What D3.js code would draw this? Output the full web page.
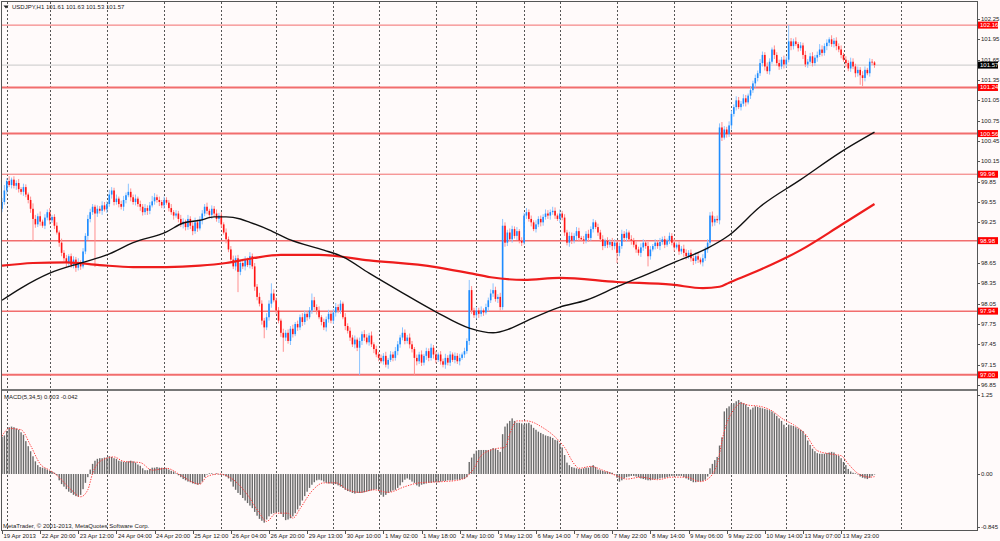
<!DOCTYPE html>
<html>
<head>
<meta charset="utf-8">
<title>USDJPY,H1</title>
<script src="https://d3js.org/d3.v7.min.js"></script>
<style>
  html, body { margin: 0; padding: 0; background: #fffafa; }
  svg { display: block; font-family: "Liberation Sans", Arial, sans-serif; }
  .lbl { font-size: 6px; fill: #222; }
  .grid { stroke: #555; stroke-width: 1; stroke-dasharray: 2,2; }
</style>
</head>
<body>
<svg id="chart" width="1000" height="541"></svg>
<script>
// ---- data (H1 bars, index 0 = first visible bar) ----
var firstOpen = 99.45;
var closes = [
  99.55,99.72,99.86,99.80,99.88,99.79,99.83,99.74,99.70,99.77,
  99.66,99.58,99.45,99.30,99.22,99.34,99.26,99.20,99.32,99.40,
  99.28,99.33,99.20,99.10,98.95,98.80,98.72,98.65,98.75,98.62,
  98.70,98.58,98.66,98.60,98.82,99.05,99.30,99.40,99.48,99.38,
  99.45,99.42,99.50,99.44,99.52,99.66,99.72,99.55,99.60,99.52,
  99.48,99.58,99.65,99.70,99.62,99.55,99.60,99.52,99.48,99.40,
  99.46,99.42,99.50,99.56,99.62,99.58,99.55,99.50,99.58,99.54,
  99.46,99.40,99.35,99.38,99.30,99.22,99.26,99.18,99.30,99.20,
  99.12,99.25,99.16,99.28,99.38,99.48,99.42,99.36,99.45,99.38,
  99.30,99.35,99.22,99.10,99.00,98.85,98.70,98.60,98.72,98.52,
  98.65,98.60,98.70,98.62,98.75,98.60,98.30,98.15,98.05,97.80,
  97.70,97.85,98.05,98.20,98.10,97.95,97.80,97.62,97.55,97.62,
  97.50,97.68,97.60,97.75,97.70,97.85,97.78,97.90,97.85,97.95,
  98.10,98.00,97.95,97.85,97.78,97.70,97.82,97.90,97.80,97.92,
  98.00,97.95,98.05,97.85,97.72,97.65,97.55,97.45,97.52,97.40,
  97.50,97.60,97.55,97.48,97.58,97.45,97.38,97.30,97.25,97.20,
  97.28,97.15,97.22,97.30,97.25,97.35,97.45,97.55,97.62,97.50,
  97.55,97.45,97.38,97.25,97.20,97.30,97.18,97.28,97.35,97.25,
  97.40,97.30,97.22,97.30,97.20,97.15,97.25,97.18,97.30,97.22,
  97.28,97.20,97.25,97.30,97.35,97.50,98.25,97.95,97.88,97.95,
  97.90,97.95,97.92,98.00,98.10,98.20,98.25,98.12,98.15,98.00,
  99.20,98.95,99.10,99.00,99.15,99.05,99.12,98.98,98.95,99.35,
  99.40,99.30,99.25,99.15,99.22,99.30,99.25,99.33,99.38,99.35,
  99.40,99.42,99.35,99.30,99.38,99.32,99.10,98.95,99.05,98.98,
  99.05,99.12,99.02,99.00,98.98,99.08,99.02,99.15,99.25,99.18,
  99.10,99.00,98.90,98.98,98.92,98.96,98.90,98.95,98.80,98.90,
  99.08,99.02,99.10,99.00,98.98,98.92,98.85,98.80,98.88,98.95,
  98.90,98.75,98.85,98.90,98.95,98.90,98.96,99.00,98.92,98.98,
  99.05,98.95,98.88,98.92,98.82,98.86,98.80,98.75,98.80,98.72,
  98.68,98.75,98.70,98.66,98.72,98.85,98.95,99.35,99.25,99.30,
  99.28,100.65,100.50,100.62,100.55,100.68,100.85,100.95,101.05,100.95,
  101.00,101.08,101.02,101.12,101.20,101.30,101.38,101.45,101.60,101.72,
  101.55,101.48,101.62,101.80,101.72,101.60,101.55,101.65,101.58,101.65,
  101.92,101.85,101.92,101.88,101.82,101.86,101.72,101.58,101.62,101.70,
  101.60,101.68,101.72,101.80,101.75,101.85,101.90,101.95,101.88,101.93,
  101.85,101.80,101.72,101.65,101.60,101.52,101.62,101.55,101.45,101.50,
  101.42,101.38,101.50,101.45,101.62,101.61,101.57
];
// upper / lower shadow lengths in pips (0.01)
var wickUp = [
  6,8,4,7,3,5,4,6,3,5, 4,3,5,8,6,4,7,3,5,4, 6,3,4,5,3,6,4,5,3,4, 5,4,6,3,5,4,6,5,4,3,
  5,4,6,5,4,7,5,4,6,3, 5,6,4,12,5,4,6,3,5,4, 6,4,5,8,6,4,5,3,5,4, 4,6,3,5,4,6,5,3,6,4,
  5,7,4,6,5,4,6,3,5,4, 6,4,5,3,6,4,5,6,4,5, 4,6,5,3,6,4,5,4,6,5, 4,6,5,15,6,4,5,3,6,4,
  5,4,6,3,5,4,6,5,4,5, 10,5,4,6,3,5,4,6,4,5, 6,4,5,3,6,4,5,4,6,3, 5,4,6,5,4,6,3,5,4,5,
  4,6,3,5,4,6,5,4,8,5, 4,6,5,3,5,4,6,3,5,4, 6,4,5,3,5,4,6,4,5,3, 5,4,6,3,5,4,15,6,4,5,
  4,6,3,5,4,6,10,5,4,6, 10,5,4,6,5,4,6,3,5,4, 6,4,5,3,6,4,5,4,6,5, 4,6,5,3,6,4,5,4,6,5,
  4,6,5,3,5,4,6,4,5,3, 5,4,6,3,5,4,6,5,4,5, 6,4,5,3,6,4,5,4,6,5, 4,6,5,3,5,4,6,4,5,3,
  5,4,6,3,5,4,6,5,4,5, 4,6,5,3,6,4,5,5,6,4, 5,6,8,5,4,6,5,4,6,5, 4,6,5,3,6,4,5,4,6,5,
  4,6,5,3,6,4,5,4,6,5, 24,5,4,6,3,5,4,6,4,5, 6,4,5,8,6,4,5,3,6,4, 5,4,6,3,5,4,6,5,4,5,
  4,6,5,3,5,4,2
];
var wickDn = [
  5,4,6,3,5,4,6,5,4,6, 4,5,6,32,5,4,6,3,5,4, 6,4,5,3,6,5,4,6,5,4, 5,6,4,5,3,4,6,5,4,79,
  5,4,6,3,5,4,6,5,4,5, 4,6,5,3,6,4,5,4,6,5, 4,6,5,3,5,4,6,4,5,3, 5,4,6,3,5,4,6,5,4,5,
  6,4,5,3,6,4,5,4,6,5, 4,6,5,3,6,4,5,4,6,30, 5,4,6,3,5,4,6,5,4,6, 16,4,5,6,3,5,4,6,21,5,
  4,6,5,3,5,4,6,4,5,3, 5,4,6,3,5,4,6,5,4,5, 6,4,5,3,6,4,5,4,6,5, 40,6,5,3,5,4,6,4,5,3,
  5,4,6,3,5,4,6,5,4,5, 4,6,5,25,6,4,5,4,6,5, 4,6,5,3,5,4,6,4,5,3, 5,4,6,3,5,4,6,5,4,5,
  6,4,5,3,6,4,5,4,6,5, 4,6,5,3,5,4,6,4,5,3, 5,4,6,3,5,4,6,5,4,5, 6,4,5,3,6,4,5,4,6,5,
  4,6,5,3,5,4,6,4,5,3, 5,4,6,3,5,4,6,5,15,5, 4,6,5,3,6,4,5,4,6,5, 4,15,5,3,5,4,6,4,5,3,
  5,4,6,3,5,4,6,5,4,5, 6,4,5,3,6,4,5,4,6,5, 4,6,5,3,5,4,6,4,5,3, 5,4,6,3,5,4,6,5,4,5,
  6,4,5,3,6,4,5,4,6,5, 4,6,5,3,5,4,6,4,5,3, 5,4,6,3,5,4,6,5,4,5, 6,4,5,3,6,4,5,4,6,5,
  14,12,5,3,5,4,4
];

// moving averages (bar index, value)
var maBlackIdx = [0,8,20,34,44,55,69,76,83,89,94,100,104,112,121,135,143,154,168,182,196,206,213,221,234,245,258,275,282,296,305,318,335,352,366];
var maBlack    = [98.10,98.28,98.50,98.66,98.77,98.95,99.11,99.24,99.28,99.33,99.33,99.30,99.25,99.14,98.99,98.84,98.74,98.50,98.21,97.93,97.69,97.62,97.68,97.81,98.00,98.10,98.30,98.55,98.66,98.87,99.06,99.48,99.88,100.29,100.58];
var maRedIdx = [0,13,27,41,55,69,83,94,105,117,133,154,182,196,205,219,234,258,281,294,301,305,318,335,352,366];
var maRed    = [98.61,98.65,98.66,98.62,98.59,98.59,98.61,98.65,98.72,98.77,98.77,98.69,98.59,98.50,98.44,98.40,98.43,98.37,98.33,98.28,98.30,98.36,98.55,98.84,99.21,99.52];

// MACD(5,34,5) histogram, hundredths
var macdX100 = [
  59,61,68,74,75,74,72,70,66,62, 52,44,36,28,20,14,11,10,9,7, 5,4,2,-2,-10,-16,-20,-24,-28,-30,
  -33,-35,-36,-33,-24,-14,-5,7,16,21, 24,25,25,26,26,28,27,25,24,21, 20,19,19,20,21,20,18,15,13,9,
  6,6,8,10,10,11,10,10,9,9, 7,5,4,1,-2,-5,-8,-10,-12,-13, -15,-16,-17,-16,-12,-5,-1,1,1,0,
  1,0,-1,-2,-4,-7,-12,-20,-25,-30, -33,-38,-42,-46,-50,-54,-60,-66,-71,-74, -77,-72,-67,-63,-62,-61,-60,-63,-68,-73,
  -72,-70,-67,-62,-56,-50,-42,-35,-28,-22, -17,-13,-10,-9,-10,-12,-14,-15,-15,-16, -16,-18,-20,-22,-25,-27,-28,-30,-31,-30,
  -30,-30,-29,-28,-27,-26,-25,-24,-27,-33, -36,-33,-30,-28,-26,-25,-22,-18,-13,-9, -7,-9,-12,-14,-18,-20,-17,-16,-15,-14,
  -14,-13,-13,-13,-12,-11,-11,-10,-10,-10, -9,-9,-9,-8,-8,-5,19,26,32,37, 38,38,38,38,38,39,41,40,38,35,
  63,75,80,84,88,84,81,81,80,78, 80,81,78,73,70,67,65,63,61,60, 59,57,54,53,48,42,30,18,14,11,
  10,9,8,8,9,10,10,12,14,11, 7,6,5,4,4,3,2,0,-6,-12, -10,-7,-5,-4,-3,-3,-4,-5,-7,-8,
  -9,-10,-10,-9,-8,-8,-7,-6,-6,-5, -4,-3,-3,-3,-3,-3,-5,-7,-9,-11, -13,-13,-12,-12,-11,-9,-4,9,16,22,
  27,45,58,99,104,107,110,112,115,117, 114,112,110,106,102,105,107,106,105,104, 103,102,101,99,96,92,88,84,78,73,
  78,77,76,74,72,70,68,62,53,46, 40,36,33,32,32,32,33,34,35,34, 30,29,25,19,14,8,4,2,1,0,
  -4,-6,-7,-8,-6,-3,0
];
var signalIdx = [0,3,8,12,16,20,23,29,33,36,38,42,47,51,58,63,69,75,80,83,86,91,97,103,108,111,115,120,122,125,130,135,140,145,150,156,162,169,175,185,191,195,198,201,207,211,213,216,220,227,233,236,240,242,247,252,258,262,268,275,281,287,293,297,300,303,307,310,313,318,322,328,332,337,342,347,352,355,359,364,366];
var signal    = [0.60,0.72,0.70,0.45,0.16,0.06,-0.02,-0.25,-0.36,-0.25,0.01,0.22,0.27,0.20,0.18,0.06,0.09,-0.02,-0.13,-0.16,-0.04,0.00,-0.09,-0.33,-0.62,-0.75,-0.62,-0.62,-0.70,-0.55,-0.27,-0.14,-0.14,-0.25,-0.29,-0.25,-0.29,-0.20,-0.14,-0.12,-0.10,-0.04,0.09,0.29,0.40,0.42,0.63,0.84,0.84,0.73,0.55,0.42,0.16,0.09,0.12,0.06,-0.03,-0.08,-0.05,-0.09,-0.05,-0.05,-0.12,-0.05,0.16,0.68,1.02,1.12,1.09,1.07,1.02,0.86,0.78,0.63,0.37,0.32,0.29,0.16,0.01,-0.05,-0.042];

// horizontal levels and the last price
var levels = [102.16, 101.24, 100.56, 99.96, 98.98, 97.94, 97.00];
var lastPrice = 101.57;

// axis labels
var priceTicks = [102.25,101.95,101.65,101.35,101.05,100.75,100.45,100.15,99.85,99.55,99.25,98.95,98.65,98.35,98.05,97.75,97.45,97.15,96.85];
var macdTicks = [1.25, 0.00, -0.845];
var timeIdx = [0,16,32,48,64,80,96,112,128,144,160,176,192,208,224,240,256,272,288,304,320,336,352];
var timeLabels = ["19 Apr 2013","22 Apr 20:00","23 Apr 12:00","24 Apr 04:00","24 Apr 20:00","25 Apr 12:00","26 Apr 04:00","26 Apr 20:00","29 Apr 13:00","30 Apr 10:00","1 May 02:00","1 May 18:00","2 May 10:00","3 May 12:00","6 May 14:00","7 May 06:00","7 May 22:00","8 May 14:00","9 May 06:00","9 May 22:00","10 May 14:00","13 May 07:00","13 May 23:00"];
var gridIdx = [2,20,44,68,92,115,139,158,182,199,219,234,258,282,306,329,353,377];

// ---- layout ----
var plotL = 2, plotR = 977, mainT = 2, mainB = 389, macdT = 391, macdB = 530;
var levelWidth = [1, 2, 2, 1, 1.5, 1.5, 2];

var svg = d3.select("#chart");
var x = d3.scaleLinear().domain([0, 409]).range([plotL, plotR]);
var y = d3.scaleLinear().domain([96.791, 102.501]).range([mainB, mainT]);
var ym = d3.scaleLinear().domain([-0.886, 1.313]).range([macdB, macdT]);

svg.append("rect").attr("width", 1000).attr("height", 541).attr("fill", "#fffafa");

var defs = svg.append("defs");
defs.append("clipPath").attr("id", "clipMain").append("rect")
    .attr("x", plotL).attr("y", mainT).attr("width", plotR - plotL).attr("height", mainB - mainT);
defs.append("clipPath").attr("id", "clipMacd").append("rect")
    .attr("x", plotL).attr("y", macdT).attr("width", plotR - plotL).attr("height", macdB - macdT);

var gMain = svg.append("g").attr("clip-path", "url(#clipMain)");
var gMacd = svg.append("g").attr("clip-path", "url(#clipMacd)");

// vertical grid
[[gMain, mainT, mainB], [gMacd, macdT, macdB]].forEach(function(p) {
    p[0].selectAll("line.grid").data(gridIdx).enter().append("line")
        .attr("class", "grid")
        .attr("x1", function(d) { return Math.round(x(d)) + 0.5; })
        .attr("x2", function(d) { return Math.round(x(d)) + 0.5; })
        .attr("y1", p[1]).attr("y2", p[2]);
});

// levels
gMain.selectAll("line.level").data(levels).enter().append("line")
    .attr("x1", plotL).attr("x2", plotR)
    .attr("y1", function(d) { return y(d); }).attr("y2", function(d) { return y(d); })
    .attr("stroke", "#f26d6d")
    .attr("stroke-width", function(d, i) { return levelWidth[i]; });

gMain.append("line")
    .attr("x1", plotL).attr("x2", plotR)
    .attr("y1", y(lastPrice)).attr("y2", y(lastPrice))
    .attr("stroke", "#c8c8c8").attr("stroke-width", 1);

// candles
var bars = closes.map(function(c, i) {
    var o = i === 0 ? firstOpen : closes[i - 1];
    return {
        i: i, o: o, c: c,
        h: Math.max(o, c) + wickUp[i] / 100,
        l: Math.min(o, c) - wickDn[i] / 100
    };
});

gMain.selectAll("line.wick").data(bars).enter().append("line")
    .attr("x1", function(d) { return x(d.i); })
    .attr("x2", function(d) { return x(d.i); })
    .attr("y1", function(d) { return y(d.h); })
    .attr("y2", function(d) { return y(d.l); })
    .attr("stroke", function(d) { return d.c >= d.o ? "#8cc4ff" : "#ff8f8f"; })
    .attr("stroke-width", 1);

gMain.selectAll("rect.body").data(bars).enter().append("rect")
    .attr("x", function(d) { return x(d.i) - 0.8; })
    .attr("width", 1.6)
    .attr("y", function(d) { return y(Math.max(d.o, d.c)); })
    .attr("height", function(d) { return Math.max(0.8, Math.abs(y(d.o) - y(d.c))); })
    .attr("fill", function(d) { return d.c >= d.o ? "#1e8cff" : "#ff1414"; });

// moving averages
var maLine = d3.line().curve(d3.curveMonotoneX)
    .x(function(d) { return x(d[0]); })
    .y(function(d) { return y(d[1]); });

gMain.append("path")
    .datum(d3.zip(maRedIdx, maRed))
    .attr("d", maLine)
    .attr("fill", "none").attr("stroke", "#ee1c1c").attr("stroke-width", 2.2);

gMain.append("path")
    .datum(d3.zip(maBlackIdx, maBlack))
    .attr("d", maLine)
    .attr("fill", "none").attr("stroke", "#111").attr("stroke-width", 1.4);

// MACD histogram
gMacd.selectAll("rect.hist").data(macdX100).enter().append("rect")
    .attr("x", function(d, i) { return x(i) - 0.7; })
    .attr("width", 1.4)
    .attr("y", function(d) { return Math.min(ym(d / 100), ym(0)); })
    .attr("height", function(d) { return Math.max(0.5, Math.abs(ym(d / 100) - ym(0))); })
    .attr("fill", "#6a6a6a");

gMacd.append("path")
    .datum(d3.zip(signalIdx, signal))
    .attr("d", d3.line().curve(d3.curveMonotoneX)
        .x(function(d) { return x(d[0]); })
        .y(function(d) { return ym(d[1]); }))
    .attr("fill", "none").attr("stroke", "#ff3b3b")
    .attr("stroke-width", 1).attr("stroke-dasharray", "1.3,1.3");

// frames
svg.append("rect").attr("x", plotL - 0.5).attr("y", mainT - 0.5)
    .attr("width", plotR - plotL + 1).attr("height", mainB - mainT + 1)
    .attr("fill", "none").attr("stroke", "#555");
svg.append("rect").attr("x", plotL - 0.5).attr("y", macdT - 0.5)
    .attr("width", plotR - plotL + 1).attr("height", macdB - macdT + 1)
    .attr("fill", "none").attr("stroke", "#555");
svg.append("rect").attr("x", plotL).attr("y", mainB + 0.5)
    .attr("width", plotR - plotL).attr("height", macdT - mainB - 1)
    .attr("fill", "#9a9a9a");

// price axis (a label sitting under a level box is hidden, as in the terminal)
var boxed = levels.concat([lastPrice]);
var shownTicks = priceTicks.filter(function(t) {
    return boxed.every(function(b) { return Math.abs(y(t) - y(b)) > 4.5; });
});
svg.selectAll("line.ptick").data(priceTicks).enter().append("line")
    .attr("x1", plotR).attr("x2", plotR + 3)
    .attr("y1", function(d) { return Math.round(y(d)) + 0.5; })
    .attr("y2", function(d) { return Math.round(y(d)) + 0.5; })
    .attr("stroke", "#555");
svg.selectAll("text.plab").data(shownTicks).enter().append("text")
    .attr("class", "lbl")
    .attr("x", plotR + 4).attr("y", function(d) { return y(d) + 2; })
    .text(function(d) { return d.toFixed(2); });

// level boxes
var boxes = svg.append("g");
levels.forEach(function(v) {
    boxes.append("rect").attr("x", plotR + 1).attr("y", y(v) - 3.5)
        .attr("width", 20).attr("height", 7).attr("fill", "#ff0000");
    boxes.append("text").attr("class", "lbl").style("fill", "#fff")
        .attr("x", plotR + 3).attr("y", y(v) + 2).text(v.toFixed(2));
});
boxes.append("rect").attr("x", plotR + 1).attr("y", y(lastPrice) - 3.5)
    .attr("width", 20).attr("height", 7).attr("fill", "#000");
boxes.append("text").attr("class", "lbl").style("fill", "#fff")
    .attr("x", plotR + 3).attr("y", y(lastPrice) + 2).text(lastPrice.toFixed(2));

// MACD axis
svg.selectAll("line.mtick").data(macdTicks).enter().append("line")
    .attr("x1", plotR).attr("x2", plotR + 3)
    .attr("y1", function(d) { return Math.round(ym(d)) + 0.5; })
    .attr("y2", function(d) { return Math.round(ym(d)) + 0.5; })
    .attr("stroke", "#555");
svg.selectAll("text.mlab").data(macdTicks).enter().append("text")
    .attr("class", "lbl")
    .attr("x", plotR + 4).attr("y", function(d) { return ym(d) + 2; })
    .text(function(d) { return d === -0.845 ? "-0.845" : d.toFixed(2); });

// time axis
svg.selectAll("line.ttick").data(timeIdx).enter().append("line")
    .attr("x1", function(d) { return Math.round(x(d)) + 0.5; })
    .attr("x2", function(d) { return Math.round(x(d)) + 0.5; })
    .attr("y1", macdB).attr("y2", macdB + 4)
    .attr("stroke", "#555");
svg.selectAll("text.tlab").data(timeIdx).enter().append("text")
    .attr("class", "lbl")
    .attr("x", function(d) { return x(d) + 1.5; })
    .attr("y", 538)
    .text(function(d, i) { return timeLabels[i]; });

// captions
svg.append("path").attr("d", "M3.5,5.5L8.5,5.5L6,8.5Z").attr("fill", "#222");
svg.append("text").attr("class", "lbl").attr("x", 12).attr("y", 9)
    .text("USDJPY,H1  101.61 101.63 101.53 101.57");
svg.append("text").attr("class", "lbl").attr("x", 4).attr("y", 399)
    .text("MACD(5,34,5) 0.003 -0.042");
svg.append("text").attr("class", "lbl").attr("x", 3).attr("y", 528)
    .text("MetaTrader, \u00a9 2001-2013, MetaQuotes Software Corp.");
</script>
</body>
</html>
